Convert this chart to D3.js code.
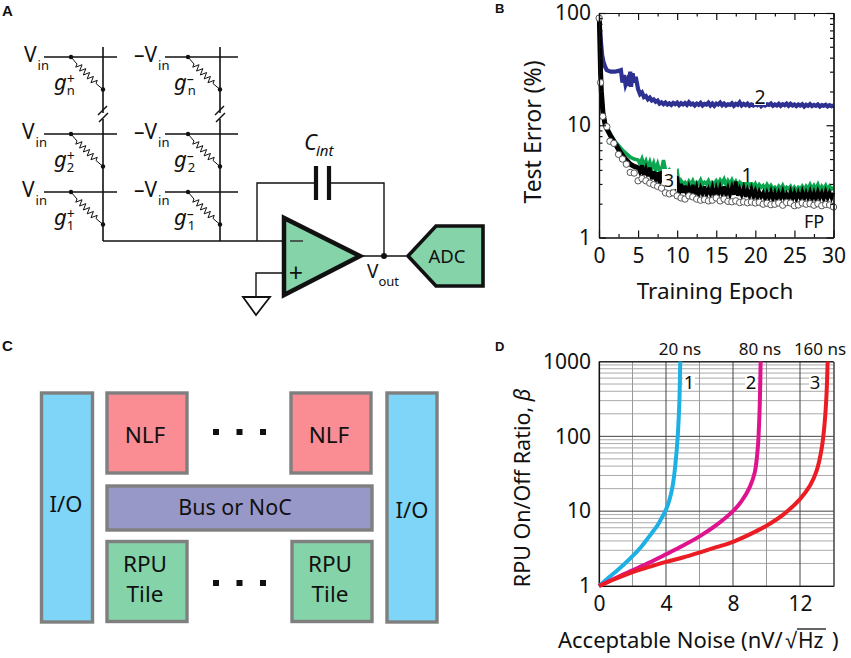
<!DOCTYPE html>
<html><head><meta charset="utf-8">
<script src="https://cdn.jsdelivr.net/npm/d3@7"></script>
<style>
html,body{margin:0;padding:0;background:#fff}
svg{display:block}
text{font-family:"Noto Sans",sans-serif;fill:#111}
.plabel{font-family:"Liberation Sans",sans-serif;font-weight:bold}
</style></head><body>
<svg id="c" width="851" height="658"></svg>
<script>
// ---------- Panel B data ----------
const lateEpochs=[5.25,5.5,5.75,6,6.25,6.5,6.75,7,7.25,7.5,
7.75,8,8.25,8.5,8.75,9,9.25,9.5,9.75,10,
10.25,10.5,10.75,11,11.25,11.5,11.75,12,12.25,12.5,
12.75,13,13.25,13.5,13.75,14,14.25,14.5,14.75,15,
15.25,15.5,15.75,16,16.25,16.5,16.75,17,17.25,17.5,
17.75,18,18.25,18.5,18.75,19,19.25,19.5,19.75,20,
20.25,20.5,20.75,21,21.25,21.5,21.75,22,22.25,22.5,
22.75,23,23.25,23.5,23.75,24,24.25,24.5,24.75,25,
25.25,25.5,25.75,26,26.25,26.5,26.75,27,27.25,27.5,
27.75,28,28.25,28.5,28.75,29,29.25,29.5,29.75,30];
const blueEpochs=[0.05,0.2,0.4,0.6,0.8,1,1.5,2,2.5,2.8,3,3.2,3.4,3.6,3.8,4,4.1,4.3,4.5,4.7,5];
const blueEarly=[88,60,42,36,33,31,30,30,30.5,31,24,28,23,25,22.5,30,22,29,24,27,21];
const blueLate=[18.9,19.6,17.8,18.2,17.0,17.6,16.6,17.0,16.2,16.6,
15.6,16.0,15.4,15.9,15.3,15.7,15.2,15.8,15.4,15.9,
15.1,15.7,15.3,15.8,15.2,16.0,15.3,15.6,15.0,15.6,
15.2,15.8,15.0,15.5,15.3,15.9,15.0,15.6,14.9,15.6,
15.3,15.9,15.1,15.6,15.0,15.4,15.2,15.7,14.9,15.5,
15.2,16.0,15.0,15.5,15.1,15.6,14.9,15.3,15.0,15.4,
15.1,15.6,14.8,15.3,15.0,15.4,15.2,15.6,14.9,15.3,
15.0,15.5,14.9,15.4,15.1,15.6,14.9,15.5,15.0,15.3,
14.8,15.3,15.0,15.4,14.7,15.2,14.9,15.4,14.8,15.2,
14.9,15.3,14.7,15.1,14.9,15.2,14.7,15.1,14.8,15.0];
const earlyEpochs=[0.05,0.1,0.2,0.3,0.5,0.75,1,1.5,2,2.5,3,3.5,4,4.5,5];
const greenEarly=[88,62,30,20,13,10.6,9.6,8.2,7.2,6.6,6,5.6,5.2,5,4.9];
const greenLate=[4.5,5.0,4.4,4.8,4.2,4.7,4.1,4.6,4.0,4.5,
3.9,4.0,4.9,4.0,3.8,4.0,3.8,3.9,3.8,3.9,
2.9,3.2,3.0,3.1,2.9,3.15,2.95,3.2,2.9,3.1,
3.0,3.25,2.95,3.1,3.0,3.2,2.9,3.1,3.0,3.2,
3.0,3.25,3.05,3.3,2.95,3.2,3.0,3.25,2.95,3.15,
2.9,3.1,2.95,3.15,2.85,3.05,2.9,3.05,2.8,3.0,
2.75,2.95,2.8,2.9,2.7,2.95,2.75,2.9,2.7,2.8,
2.65,2.85,2.7,2.9,2.65,2.8,2.7,2.85,2.6,2.8,
2.65,2.8,2.7,2.85,2.65,2.85,2.7,2.95,2.7,2.9,
2.7,2.95,2.65,2.85,2.7,2.9,2.65,2.85,2.7,2.8];
const blackEarly=[90,60,30,20,13,10.4,9.3,8,7,6.1,5.4,4.9,4.5,4.3,4.2];
const blackLate=[3.8,4.4,3.6,4.1,3.5,4.2,3.3,3.9,3.3,3.8,
3.0,3.9,3.1,3.6,3.0,3.5,3.0,3.4,2.95,3.5,
2.45,3.0,2.5,2.9,2.4,2.8,2.45,2.95,2.4,2.8,
2.4,2.75,2.45,2.85,2.4,2.7,2.45,2.8,2.35,2.75,
2.4,2.8,2.45,2.85,2.4,2.75,2.4,2.8,2.4,3.15,
2.35,2.7,2.4,2.75,2.3,2.65,2.35,2.7,2.3,2.6,
2.25,2.55,2.3,2.5,2.2,2.5,2.25,2.55,2.2,2.5,
2.2,2.5,2.25,2.55,2.2,2.45,2.25,2.55,2.2,2.5,
2.2,2.5,2.25,2.55,2.2,2.5,2.25,2.55,2.2,2.5,
2.2,2.55,2.25,2.5,2.2,2.55,2.25,2.5,2.25,2.5];
const fpEpochs=[0.02,0.2,0.47,1,1.4,1.9,2.5,3,3.5,4,4.5,5,5.5,6,6.5,7,7.5,8,8.5,9,9.5,10,10.5,11,11.5,12,12.5,13,13.5,14,14.5,15,15.5,16,16.5,17,17.5,18,18.5,19,19.5,20,20.5,21,21.5,22,22.5,23,23.5,24,24.5,25,25.5,26,26.5,27,27.5,28,28.5,29,29.5,30];
const fpValues=[90,24,12,9.7,7.2,6.9,5.5,5,4.5,3.8,3.75,3.2,3.35,3.2,3.05,2.95,2.85,2.75,2.5,2.45,2.5,2.35,2.25,2.2,2.35,2.3,2.2,2.15,2.18,2.12,2.15,2.25,2.12,2.2,2.1,2.08,2.12,2.05,2.08,2.04,2.07,2.03,2.06,1.98,2.02,1.96,1.98,2.03,1.94,2.05,2.03,1.92,1.95,2.03,1.98,2.0,1.94,2.0,1.92,1.97,1.95,1.87];
const bXTicks=[0,5,10,15,20,25,30];
const bXMinor=[2.5,7.5,12.5,17.5,22.5,27.5];
const bYTicks=[1,10,100];
const bYMinor=[2,3,4,5,6,7,8,9,20,30,40,50,60,70,80,90];
// ---------- Panel D data ----------
const noise1=[0,0.5,1,1.5,2,2.5,3,3.5,3.7,4,4.2,4.4,4.55,4.7,4.8,4.85];
const ratio1=[1,1.25,1.55,1.95,2.5,3.3,4.6,6.5,7.8,10.5,14,22,40,100,300,1000];
const noise2=[0,1,2,3,4,5,6,7,8,8.5,9,9.3,9.48,9.58,9.65];
const ratio2=[1,1.28,1.62,2.05,2.65,3.45,4.6,6.5,10,13.5,21,33,70,200,1000];
const noise3=[0,1,2,3,4,5,6,7,8,9,10,11,12,12.6,13,13.3,13.47,13.58,13.65];
const ratio3=[1,1.25,1.53,1.8,2.1,2.4,2.8,3.3,3.9,4.9,6.4,9,14.5,22,35,70,150,350,1000];
const dXTicks=[0,4,8,12];
const dXGray=[2,6,10];
const dYTicks=[1,10,100,1000];
const dYMinor=[2,3,4,5,6,7,8,9,20,30,40,50,60,70,80,90,200,300,400,500,600,700,800,900];
const curveColors=["#1cb0e4","#e0138f","#ec1c24"];
const curveNames=["20 ns","80 ns","160 ns"];

const svg=d3.select("#c");
function T(x,y,s,size,o={}){
  const t=svg.append("text").attr("x",x).attr("y",y).attr("font-size",size).text(s);
  if(o.anchor)t.attr("text-anchor",o.anchor);
  if(o.italic)t.attr("font-style","italic");
  if(o.rot!==undefined)t.attr("transform",`rotate(${o.rot},${x},${y})`);
  if(o.cls)t.attr("class",o.cls);
  return t;
}
function L(p,w,c,parent){return (parent||svg).append("path").attr("d",d3.line()(p)).attr("fill","none").attr("stroke",c||"#111").attr("stroke-width",w);}
T(2,16,"A",15,{cls:"plabel"});T(495,13,"B",13,{cls:"plabel"});T(2,351,"C",15,{cls:"plabel"});T(495,351,"D",13,{cls:"plabel"});

// ---------- Panel A ----------
const rows=[{y:57,sub:"n",vx:0},{y:134,sub:"2",vx:-2},{y:192,sub:"1",vx:-2}];
const cols=[{h0:44,h1:117,v:103,off:0,neg:false},{h0:165,h1:238,v:220,off:117,neg:true}];
cols.forEach(c=>{
  L([[c.v,47],[c.v,241]],1.6);
  svg.append("line").attr("x1",c.v).attr("x2",c.v).attr("y1",113).attr("y2",119).attr("stroke","#fff").attr("stroke-width",3);
  L([[c.v-5,115],[c.v+4,106]],1.4);
  L([[c.v-4,122],[c.v+5,113]],1.4);
  rows.forEach(r=>{
    L([[c.h0,r.y],[c.h1,r.y]],1.4);
    const x0=c.v-32,y0=r.y,x1=c.v,y1=r.y+32.5;
    const pts=[[x0,y0],[x0+6,y0+7]];
    for(let i=0;i<10;i++){
      const f=(i+0.5)/10,a=i%2?2.2:-2.2;
      pts.push([x0+6+f*19+a,y0+7+f*19.5-a]);
    }
    pts.push([x1-7,y1-6],[x1,y1]);
    L(pts,1);
    svg.append("circle").attr("cx",x0).attr("cy",y0).attr("r",2.2).attr("fill","#111");
    svg.append("circle").attr("cx",x1).attr("cy",y1).attr("r",2.2).attr("fill","#111");
    const v=T(c.neg?134:24+r.vx,r.y+5,c.neg?"–V":"V",21);
    v.append("tspan").attr("font-size",13).attr("dy",8).attr("dx",1).text("in");
    const g=T(c.neg?174:54,r.y+33,"g",22,{italic:true});
    g.append("tspan").attr("font-style","normal").attr("font-size",14).attr("dy",-6).attr("dx",0).text(c.neg?"–":"+");
    g.append("tspan").attr("font-style","normal").attr("font-size",13).attr("dy",11).attr("dx",c.neg?-6:-8).text(r.sub);
  });
});
L([[103,241],[283,241]],1.6);
L([[257,241],[257,183],[316,183]],1.4);
L([[329,183],[384,183],[384,256]],1.4);
L([[316,166],[316,200]],4.2);L([[329,166],[329,200]],4.2);
T(304,150,"C",22,{italic:true}).append("tspan").attr("font-size",15).attr("dy",6).attr("dx",-1).text("int");
L([[283,273],[256,273],[256,297]],1.4);
svg.append("polygon").attr("points","243,297 270,297 256,315").attr("fill","#fff").attr("stroke","#111").attr("stroke-width",1.8);
L([[362,256],[406,256]],1.6);
svg.append("circle").attr("cx",384).attr("cy",256).attr("r",3).attr("fill","#111");
svg.append("polygon").attr("points","284,218 284,295 360,256").attr("fill","#85d3a9").attr("stroke","#111").attr("stroke-width",4.5);
L([[290,241],[303,241]],1.5,"#333");
T(296,282,"+",25,{anchor:"middle"});
svg.append("polygon").attr("points","408,256 436,226 483,226 483,286 436,286").attr("fill","#85d3a9").attr("stroke","#111").attr("stroke-width",3.6);
T(447,263,"ADC",18.5,{anchor:"middle"});
T(367,278,"V",19).append("tspan").attr("font-size",13).attr("dy",8).attr("dx",0).text("out");

// ---------- Panel C ----------
const boxes=[
 {x:41.5,y:393,w:51,h:229,f:"#7fd5f7",fs:22,t:[["I/O",66,512]]},
 {x:387,y:393,w:50,h:229,f:"#7fd5f7",fs:22,t:[["I/O",412,518]]},
 {x:107,y:393,w:80,h:80,f:"#f98d93",fs:22.5,t:[["NLF",145,443]]},
 {x:291,y:393,w:80,h:80,f:"#f98d93",fs:22.5,t:[["NLF",329,443]]},
 {x:107,y:486,w:265,h:44,f:"#9898c8",fs:21.5,t:[["Bus or NoC",235,515]]},
 {x:107,y:541.5,w:80,h:80,f:"#85d3a9",fs:22.5,t:[["RPU",145,572],["Tile",145,602]]},
 {x:292,y:541.5,w:80,h:80,f:"#85d3a9",fs:22.5,t:[["RPU",330,572],["Tile",330,602]]}
];
boxes.forEach(b=>{
  svg.append("rect").attr("x",b.x).attr("y",b.y).attr("width",b.w).attr("height",b.h).attr("fill",b.f).attr("stroke","#7f7f7f").attr("stroke-width",3.4);
  b.t.forEach(t=>T(t[1],t[2],t[0],b.fs,{anchor:"middle"}));
});
[432,583].forEach(y=>[216,239.5,263].forEach(x=>svg.append("rect").attr("x",x-3).attr("y",y-3).attr("width",6).attr("height",6).attr("fill","#111")));

// ---------- Panel B ----------
const bx=d3.scaleLinear().domain([0,30]).range([599,833.5]);
const by=d3.scaleLog().domain([1,100]).range([237.5,13]);
const bLine=d3.line().x(d=>bx(d[0])).y(d=>by(d[1]));
const zipS=(xs,ys)=>xs.map((x,i)=>[x,ys[i]]);
const gB=svg.append("g");
const seriesPath=(pts,c,w)=>gB.append("path").attr("d",bLine(pts)).attr("fill","none").attr("stroke",c).attr("stroke-width",w);
seriesPath(zipS(blueEpochs.concat(lateEpochs),blueEarly.concat(blueLate)),"#2e3192",4.2);
seriesPath(zipS(earlyEpochs.concat(lateEpochs),greenEarly.concat(greenLate)),"#0ba64f",3.6);
seriesPath(zipS(earlyEpochs.concat(lateEpochs),blackEarly.concat(blackLate)),"#000",3.6);
seriesPath(zipS(earlyEpochs,blackEarly),"#000",5);
gB.append("rect").attr("x",bx(8.05)).attr("y",169).attr("width",15).attr("height",20).attr("fill","#fff");
gB.selectAll("circle").data(zipS(fpEpochs,fpValues)).join("circle")
  .attr("cx",d=>bx(d[0])).attr("cy",d=>by(d[1])).attr("r",3.2).attr("fill","#fff").attr("stroke","#555").attr("stroke-width",1);
gB.append("rect").attr("x",754).attr("y",91).attr("width",12).attr("height",14).attr("fill","#fff");
gB.append("rect").attr("x",742).attr("y",168).attr("width",11).attr("height",14).attr("fill","#fff");
function styleAxis(g,size){g.selectAll("text").attr("font-size",size).style("fill","#111");g.selectAll("line,path").attr("stroke","#111").attr("stroke-width",1.2);return g;}
function drawAxes(x,y,xT,xM,yT,yM,fy,padX,padY,inner){
  const [x0,x1]=x.range(),[y0,y1]=y.range();
  const big=inner?7:0,small=inner?3.5:0;
  styleAxis(svg.append("g").attr("transform",`translate(0,${y0})`).call(d3.axisBottom(x).tickValues(xT).tickSizeOuter(0).tickSizeInner(-big).tickPadding(padX).tickFormat(d3.format("d"))),21);
  styleAxis(svg.append("g").attr("transform",`translate(${x0},0)`).call(d3.axisLeft(y).tickValues(yT).tickSizeOuter(0).tickSizeInner(-big).tickPadding(padY).tickFormat(fy)),21);
  styleAxis(svg.append("g").attr("transform",`translate(0,${y1})`).call(d3.axisTop(x).tickValues(xT).tickSizeOuter(0).tickSizeInner(-big).tickFormat("")),0);
  styleAxis(svg.append("g").attr("transform",`translate(${x1},0)`).call(d3.axisRight(y).tickValues(yT).tickSizeOuter(0).tickSizeInner(-big).tickFormat("")),0);
  if(inner){
    styleAxis(svg.append("g").attr("transform",`translate(0,${y0})`).call(d3.axisBottom(x).tickValues(xM).tickSizeOuter(0).tickSizeInner(-small).tickFormat("")),0);
    styleAxis(svg.append("g").attr("transform",`translate(0,${y1})`).call(d3.axisTop(x).tickValues(xM).tickSizeOuter(0).tickSizeInner(-small).tickFormat("")),0);
    styleAxis(svg.append("g").attr("transform",`translate(${x0},0)`).call(d3.axisLeft(y).tickValues(yM).tickSizeOuter(0).tickSizeInner(-small).tickFormat("")),0);
    styleAxis(svg.append("g").attr("transform",`translate(${x1},0)`).call(d3.axisRight(y).tickValues(yM).tickSizeOuter(0).tickSizeInner(-small).tickFormat("")),0);
  }
}
drawAxes(bx,by,bXTicks,bXMinor,bYTicks,bYMinor,d3.format("d"),11,8,true);
T(760,104,"2",19.5,{anchor:"middle"});
T(747,182,"1",19.5,{anchor:"middle"});
T(669,187,"3",18,{anchor:"middle"});
T(814,228,"FP",18,{anchor:"middle"});
T(715,299,"Training Epoch",22.5,{anchor:"middle"});
T(541,132,"Test Error (%)",23,{anchor:"middle",rot:-90});

// ---------- Panel D ----------
const dx=d3.scaleLinear().domain([0,14]).range([599,833.5]);
const dy=d3.scaleLog().domain([1,1000]).range([586,361.5]);
const gG=svg.append("g");
dYMinor.forEach(v=>gG.append("line").attr("x1",599).attr("x2",833.5).attr("y1",dy(v)).attr("y2",dy(v)).attr("stroke","#aaa").attr("stroke-width",1));
dXGray.forEach(v=>gG.append("line").attr("x1",dx(v)).attr("x2",dx(v)).attr("y1",361.5).attr("y2",586).attr("stroke","#999").attr("stroke-width",1));
dYTicks.forEach(v=>gG.append("line").attr("x1",599).attr("x2",833.5).attr("y1",dy(v)).attr("y2",dy(v)).attr("stroke","#444").attr("stroke-width",1));
dXTicks.forEach(v=>gG.append("line").attr("x1",dx(v)).attr("x2",dx(v)).attr("y1",361.5).attr("y2",586).attr("stroke","#444").attr("stroke-width",1));
drawAxes(dx,dy,dXTicks,[],dYTicks,[],d3.format("d"),10,8,false);
const dLine=d3.line().x(d=>dx(d[0])).y(d=>dy(d[1])).curve(d3.curveCatmullRom.alpha(0.5));
[[noise1,ratio1,0],[noise2,ratio2,1],[noise3,ratio3,2]].forEach(s=>{
  svg.append("path").attr("d",dLine(zipS(s[0],s[1]))).attr("fill","none").attr("stroke",curveColors[s[2]]).attr("stroke-width",4);
});
[680,760,820].forEach((x,i)=>T(x,355,curveNames[i],17,{anchor:"middle"}));
[[689,"1"],[751,"2"],[815,"3"]].forEach(d=>{
  svg.append("rect").attr("x",d[0]-6).attr("y",374).attr("width",12).attr("height",15).attr("fill","#fff");
  T(d[0],389,d[1],18.5,{anchor:"middle"});
});
T(530,488,"RPU On/Off Ratio, ",21.5,{anchor:"middle",rot:-90}).append("tspan").attr("font-style","italic").text("β");
T(558,648,"Acceptable Noise (nV/",22);
T(785,648,"√",22);
T(798,648,"Hz",21);
L([[797,629],[826,629]],1.3);
T(832,648,")",22);
</script>
</body></html>
